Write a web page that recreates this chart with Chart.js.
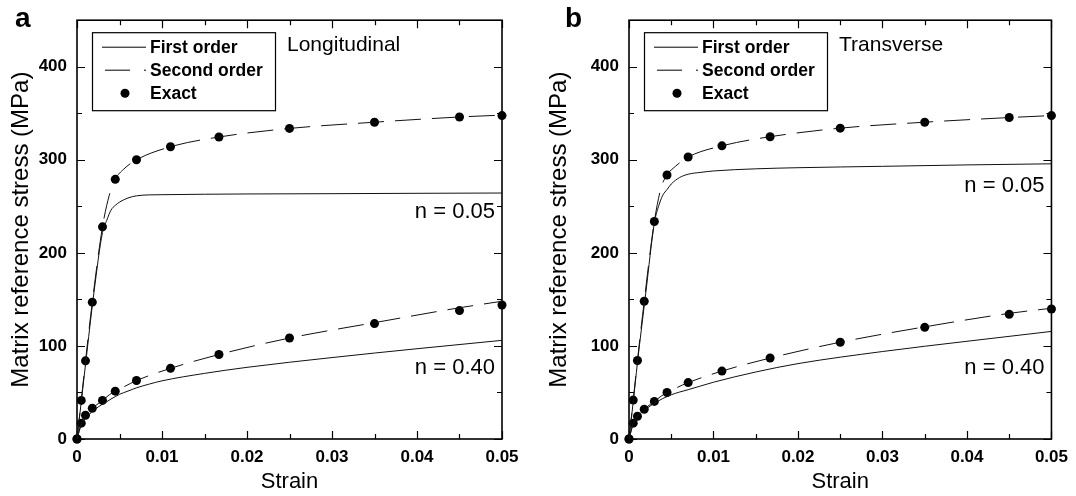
<!DOCTYPE html>
<html>
<head>
<meta charset="utf-8">
<script src="https://cdn.jsdelivr.net/npm/chart.js@4.4.1/dist/chart.umd.min.js"></script>
<style>
  body { margin: 0; background: #fff; }
  #wrap { display: flex; width: 1076px; height: 496px; }
  canvas { display: block; }
</style>
</head>
<body>
<div id="wrap">
  <canvas id="chartA" width="538" height="496"></canvas>
  <canvas id="chartB" width="538" height="496"></canvas>
</div>
<script>
const strainFirst = [0, 0.0005, 0.001, 0.002, 0.003, 0.0035, 0.004, 0.0045, 0.005, 0.006, 0.007, 0.0085, 0.01, 0.015, 0.02, 0.03, 0.04, 0.05];
const strainSecond = [0, 0.0005, 0.001, 0.0018, 0.003, 0.0038, 0.0045, 0.0055, 0.007, 0.011, 0.0167, 0.025, 0.035, 0.045, 0.05];
const strainExact = [0, 0.0005, 0.001, 0.0018, 0.003, 0.0045, 0.007, 0.011, 0.0167, 0.025, 0.035, 0.045, 0.05];

// (a) longitudinal
const firstA_n005 = [0, 40, 80, 158, 222, 235, 246, 251, 254.5, 259, 261.3, 262.3, 262.5, 263, 263.3, 263.6, 264, 264.3];
const firstA_n040 = [0, 15, 22, 31, 37.5, 40, 43, 45.5, 48, 51.5, 55, 59, 62.5, 70.5, 77, 87.5, 97, 106];
const secondA_n005 = [0, 41.5, 84, 147, 228, 262, 279, 290, 300, 314, 324.5, 333.7, 340.4, 346, 348];
const secondA_n040 = [0, 17, 25.5, 33, 41.5, 47.5, 51.4, 56, 62.8, 75.9, 90.8, 108.5, 125, 141, 148];
const exactA_n005 = [0, 41.5, 84, 147, 228, 279, 300, 314, 324.5, 333.7, 340.4, 346, 347.5];
const exactA_n040 = [0, 17, 25.5, 33, 41.5, 51.4, 62.8, 75.9, 90.8, 108.5, 124, 138, 144];

// (b) transverse
const firstB_n005 = [0, 40, 82, 158, 232, 250, 262, 268, 274, 281, 284.5, 286.5, 288, 290.3, 291.5, 293, 294.5, 295.7];
const firstB_n040 = [0, 16, 24, 32, 38.5, 41, 43.5, 45.5, 47.5, 50.5, 53, 57, 61, 72, 81, 94, 105, 115.6];
const secondB_n005 = [0, 41.8, 84.4, 148, 233.7, 270, 283.7, 293, 303, 315, 324.8, 334, 340.4, 345.4, 347.5];
const secondB_n040 = [0, 17, 24.5, 32, 40.4, 46, 50, 54.5, 60.6, 73, 87, 104, 120.5, 135, 140.5];
const exactB_n005 = [0, 41.8, 84.4, 148, 233.7, 283.7, 303, 315, 324.8, 334, 340.4, 345.4, 347.5];
const exactB_n040 = [0, 17, 24.5, 32, 40.4, 50, 60.6, 73, 87, 104, 120, 134, 139.7];

// axis ticks
const xMajor = [0, 0.01, 0.02, 0.03, 0.04, 0.05];
const xMinor = [0.005, 0.015, 0.025, 0.035, 0.045];
const yMajor = [0, 100, 200, 300, 400];
const yMinor = [50, 150, 250, 350];

const FONT = '"Liberation Sans", Arial, Helvetica, sans-serif';
const DASH = [26, 11];

const toPts = (xs, ys) => xs.map((x, i) => ({ x: x, y: ys[i] }));

function lineSet(label, xs, ys, dash) {
    return {
        label: label,
        data: toPts(xs, ys),
        borderColor: '#111',
        borderWidth: 1,
        borderDash: dash || [],
        pointRadius: 0,
        cubicInterpolationMode: 'monotone',
        clip: 8
    };
}

function dotSet(xs, ys) {
    return {
        label: 'Exact',
        data: toPts(xs, ys),
        showLine: false,
        pointRadius: 4.5,
        pointBackgroundColor: '#000',
        pointBorderWidth: 0,
        clip: 8
    };
}

// box frame with inward ticks on all four sides
const frameTicks = {
    id: 'frameTicks',
    beforeDatasetsDraw(chart) {
        const { ctx, chartArea: a, scales: { x, y } } = chart;
        ctx.save();
        ctx.strokeStyle = '#000';
        ctx.lineWidth = 1.2;
        ctx.beginPath();
        const tickX = (v, len) => {
            const px = Math.round(x.getPixelForValue(v)) + 0.5;
            ctx.moveTo(px, a.bottom); ctx.lineTo(px, a.bottom - len);
            ctx.moveTo(px, a.top); ctx.lineTo(px, a.top + len);
        };
        const tickY = (v, len) => {
            const py = Math.round(y.getPixelForValue(v)) + 0.5;
            ctx.moveTo(a.left, py); ctx.lineTo(a.left + len, py);
            ctx.moveTo(a.right, py); ctx.lineTo(a.right - len, py);
        };
        xMajor.forEach(v => tickX(v, 8));
        xMinor.forEach(v => tickX(v, 5));
        yMajor.forEach(v => tickY(v, 8));
        yMinor.forEach(v => tickY(v, 5));
        ctx.stroke();
        ctx.lineWidth = 1.6;
        ctx.strokeRect(a.left, a.top, a.right - a.left, a.bottom - a.top);
        ctx.restore();
    }
};

// legend box, panel letter and curve labels
const annotations = {
    id: 'annotations',
    afterDraw(chart, args, o) {
        const { ctx, chartArea: a, scales: { x, y } } = chart;
        ctx.save();
        ctx.fillStyle = '#000';
        ctx.strokeStyle = '#000';

        ctx.font = 'bold 28px ' + FONT;
        ctx.textAlign = 'left';
        ctx.textBaseline = 'alphabetic';
        ctx.fillText(o.letter, o.letterX, 27);

        ctx.font = '21px ' + FONT;
        ctx.fillText(o.title, a.left + 210, a.top + 31);

        ctx.font = '22px ' + FONT;
        ctx.textAlign = 'right';
        ctx.fillText('n = 0.05', a.right - 7, y.getPixelForValue(o.nHighY));
        ctx.fillText('n = 0.40', a.right - 7, y.getPixelForValue(o.nLowY));

        // legend
        const bx = a.left + 15, by = a.top + 12;
        ctx.lineWidth = 1.2;
        ctx.strokeRect(bx + 0.5, by + 0.5, 183, 78);
        ctx.font = 'bold 17.5px ' + FONT;
        ctx.textAlign = 'left';
        const rows = [
            { text: 'First order', base: by + 21 },
            { text: 'Second order', base: by + 44 },
            { text: 'Exact', base: by + 67 }
        ];
        rows.forEach(r => ctx.fillText(r.text, bx + 58, r.base));
        ctx.lineWidth = 1;
        ctx.beginPath();
        ctx.moveTo(bx + 10, rows[0].base - 6); ctx.lineTo(bx + 54, rows[0].base - 6);
        ctx.moveTo(bx + 13, rows[1].base - 6); ctx.lineTo(bx + 38, rows[1].base - 6);
        ctx.moveTo(bx + 52, rows[1].base - 6); ctx.lineTo(bx + 54, rows[1].base - 6);
        ctx.stroke();
        ctx.beginPath();
        ctx.arc(bx + 33, rows[2].base - 6, 4.5, 0, Math.PI * 2);
        ctx.fill();
        ctx.restore();
    }
};

function makeChart(id, sets, o) {
    return new Chart(document.getElementById(id).getContext('2d'), {
        type: 'line',
        data: { datasets: sets },
        plugins: [frameTicks, annotations],
        options: {
            responsive: false,
            animation: false,
            layout: { padding: { left: 0, right: o.rightPad, top: 16, bottom: 0 } },
            plugins: {
                legend: { display: false },
                tooltip: { enabled: false },
                annotations: o
            },
            scales: {
                x: {
                    type: 'linear',
                    min: 0,
                    max: 0.05,
                    afterBuildTicks: s => { s.ticks = xMajor.map(v => ({ value: v })); },
                    afterFit: s => { s.height = 57; },
                    grid: { display: false, drawTicks: false },
                    border: { display: false },
                    ticks: {
                        callback: v => v === 0 ? '0' : v.toFixed(2),
                        font: { family: FONT, size: 17, weight: 'bold' },
                        color: '#000',
                        padding: 8,
                        maxRotation: 0,
                        autoSkip: false
                    },
                    title: {
                        display: true,
                        text: 'Strain',
                        font: { family: FONT, size: 22 },
                        color: '#000',
                        padding: { top: 0, bottom: 1 }
                    }
                },
                y: {
                    type: 'linear',
                    min: 0,
                    max: 450,
                    afterBuildTicks: s => { s.ticks = yMajor.map(v => ({ value: v })); },
                    afterFit: s => { s.width = o.leftW; },
                    grid: { display: false, drawTicks: false },
                    border: { display: false },
                    ticks: {
                        callback: v => String(v),
                        font: { family: FONT, size: 17, weight: 'bold' },
                        color: '#000',
                        padding: 10
                    },
                    title: {
                        display: true,
                        text: 'Matrix reference stress (MPa)',
                        font: { family: FONT, size: 24 },
                        color: '#000',
                        padding: { top: 7, bottom: 0 }
                    }
                }
            }
        }
    });
}

makeChart('chartA', [
    lineSet('First order', strainFirst, firstA_n005),
    lineSet('First order', strainFirst, firstA_n040),
    lineSet('Second order', strainSecond, secondA_n005, DASH),
    lineSet('Second order', strainSecond, secondA_n040, DASH),
    dotSet(strainExact, exactA_n005),
    dotSet(strainExact, exactA_n040)
], { leftW: 77, rightPad: 36, letter: 'a', letterX: 15, title: 'Longitudinal', nHighY: 238, nLowY: 70 });

makeChart('chartB', [
    lineSet('First order', strainFirst, firstB_n005),
    lineSet('First order', strainFirst, firstB_n040),
    lineSet('Second order', strainSecond, secondB_n005, DASH),
    lineSet('Second order', strainSecond, secondB_n040, DASH),
    dotSet(strainExact, exactB_n005),
    dotSet(strainExact, exactB_n040)
], { leftW: 91, rightPad: 22, letter: 'b', letterX: 27, title: 'Transverse', nHighY: 265, nLowY: 70 });
</script>
</body>
</html>
